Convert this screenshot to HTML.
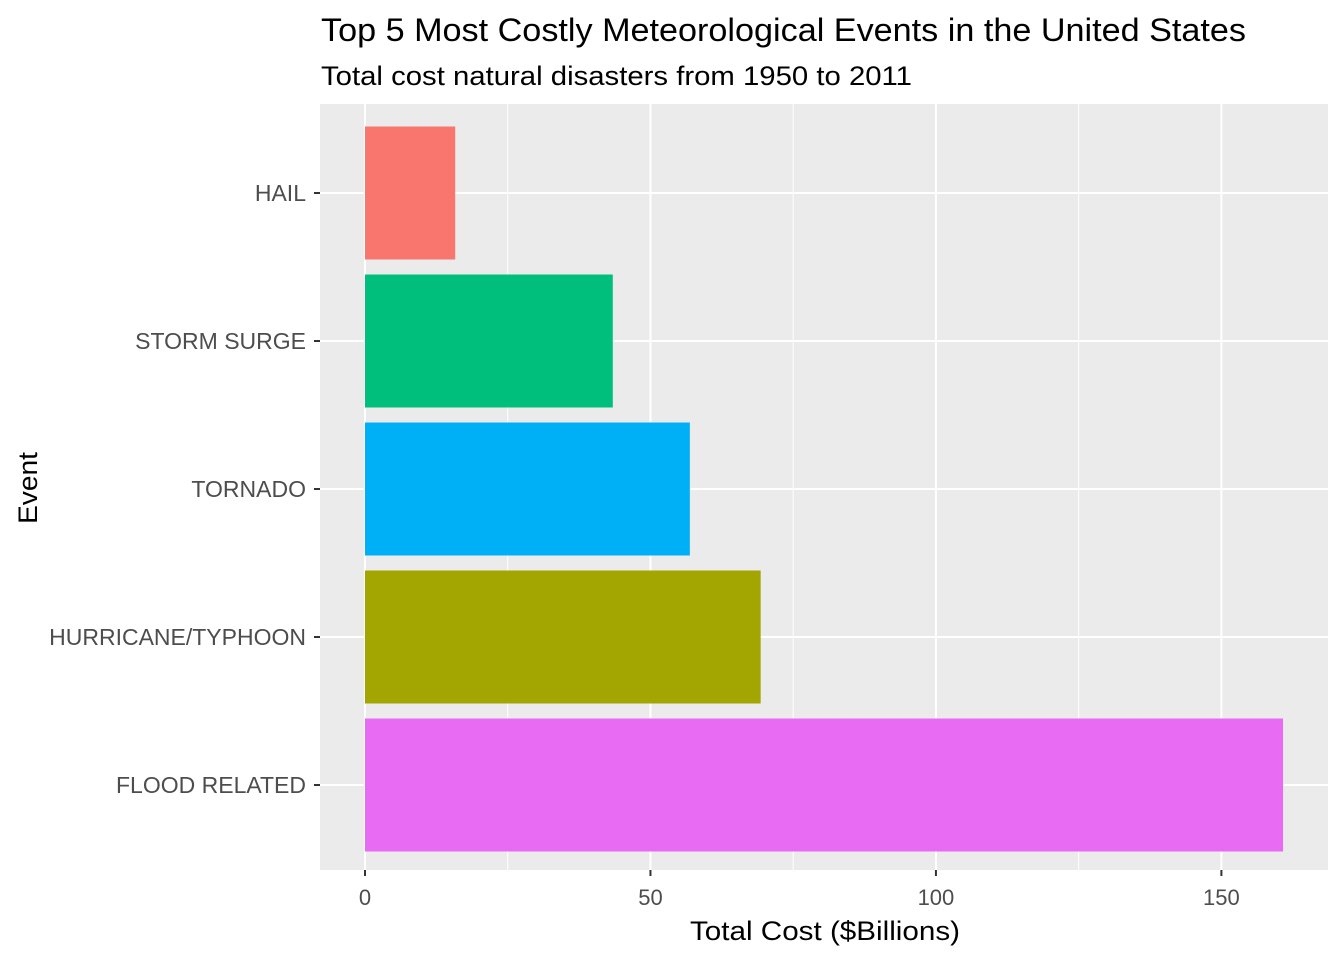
<!DOCTYPE html>
<html><head><meta charset="utf-8"><style>
html,body{margin:0;padding:0;background:#fff;}
svg{display:block;font-family:"Liberation Sans",Arial,sans-serif;}
</style></head><body>
<svg id="chart" width="1344" height="960" viewBox="0 0 1344 960">
<rect width="1344" height="960" fill="#fff"/>
<text x="321" y="41" font-size="32" fill="#000" textLength="925" lengthAdjust="spacingAndGlyphs">Top 5 Most Costly Meteorological Events in the United States</text>
<text x="321" y="85" font-size="27" fill="#000" textLength="591" lengthAdjust="spacingAndGlyphs">Total cost natural disasters from 1950 to 2011</text>
<rect x="320" y="104" width="1008" height="766" fill="#ebebeb"/>
<g id="grid"></g>
<g id="bars"></g>
<g id="axes"></g>
<text x="825" y="940" font-size="27" text-anchor="middle" fill="#000" textLength="270" lengthAdjust="spacingAndGlyphs">Total Cost ($Billions)</text>
<text transform="translate(37,488) rotate(-90)" font-size="27" text-anchor="middle" fill="#000" textLength="72" lengthAdjust="spacingAndGlyphs">Event</text>
</svg>
<script>
const categories = ["HAIL","STORM SURGE","TORNADO","HURRICANE/TYPHOON","FLOOD RELATED"];
const values = [15.8, 43.4, 56.9, 69.3, 160.8];
const colors = ["#F8766D","#00BF7D","#00B0F6","#A3A500","#E76BF3"];
const xTicks = [0, 50, 100, 150];
const xMinor = [25, 75, 125];
const NS = "http://www.w3.org/2000/svg";
const x = v => 365 + v * 5.7093;
const y = i => 193 + i * 148;
const bandH = 133;
function mk(tag, attrs, parent){const e=document.createElementNS(NS,tag);for(const k in attrs)e.setAttribute(k,attrs[k]);parent.appendChild(e);return e;}
const grid=document.getElementById('grid'), bars=document.getElementById('bars'), axes=document.getElementById('axes');
xMinor.forEach(v=>{const l=mk('line',{x1:x(v),x2:x(v),y1:104,y2:870,stroke:'#fff','stroke-width':1},grid);

});
xTicks.forEach(v=>{const l=mk('line',{x1:x(v),x2:x(v),y1:104,y2:870,stroke:'#fff','stroke-width':2},grid);


const t=mk('line',{x1:x(v),x2:x(v),y1:870,y2:876,stroke:'#333','stroke-width':2},axes);


const tx=mk('text',{x:x(v),y:905,'font-size':22,'text-anchor':'middle',fill:'#4d4d4d'},axes);tx.textContent=v;

});
categories.forEach((c,i)=>{const l=mk('line',{x1:320,x2:1328,y1:y(i),y2:y(i),stroke:'#fff','stroke-width':2},grid);


const r=mk('rect',{x:x(0),y:y(i)-bandH/2,width:x(values[i])-x(0),height:bandH,fill:colors[i]},bars);


const t=mk('line',{x1:314,x2:320,y1:y(i),y2:y(i),stroke:'#333','stroke-width':2},axes);


const tx=mk('text',{x:306,y:y(i)+8,'font-size':23,'text-anchor':'end',fill:'#4d4d4d'},axes);tx.textContent=c;

});
</script>
</body></html>
